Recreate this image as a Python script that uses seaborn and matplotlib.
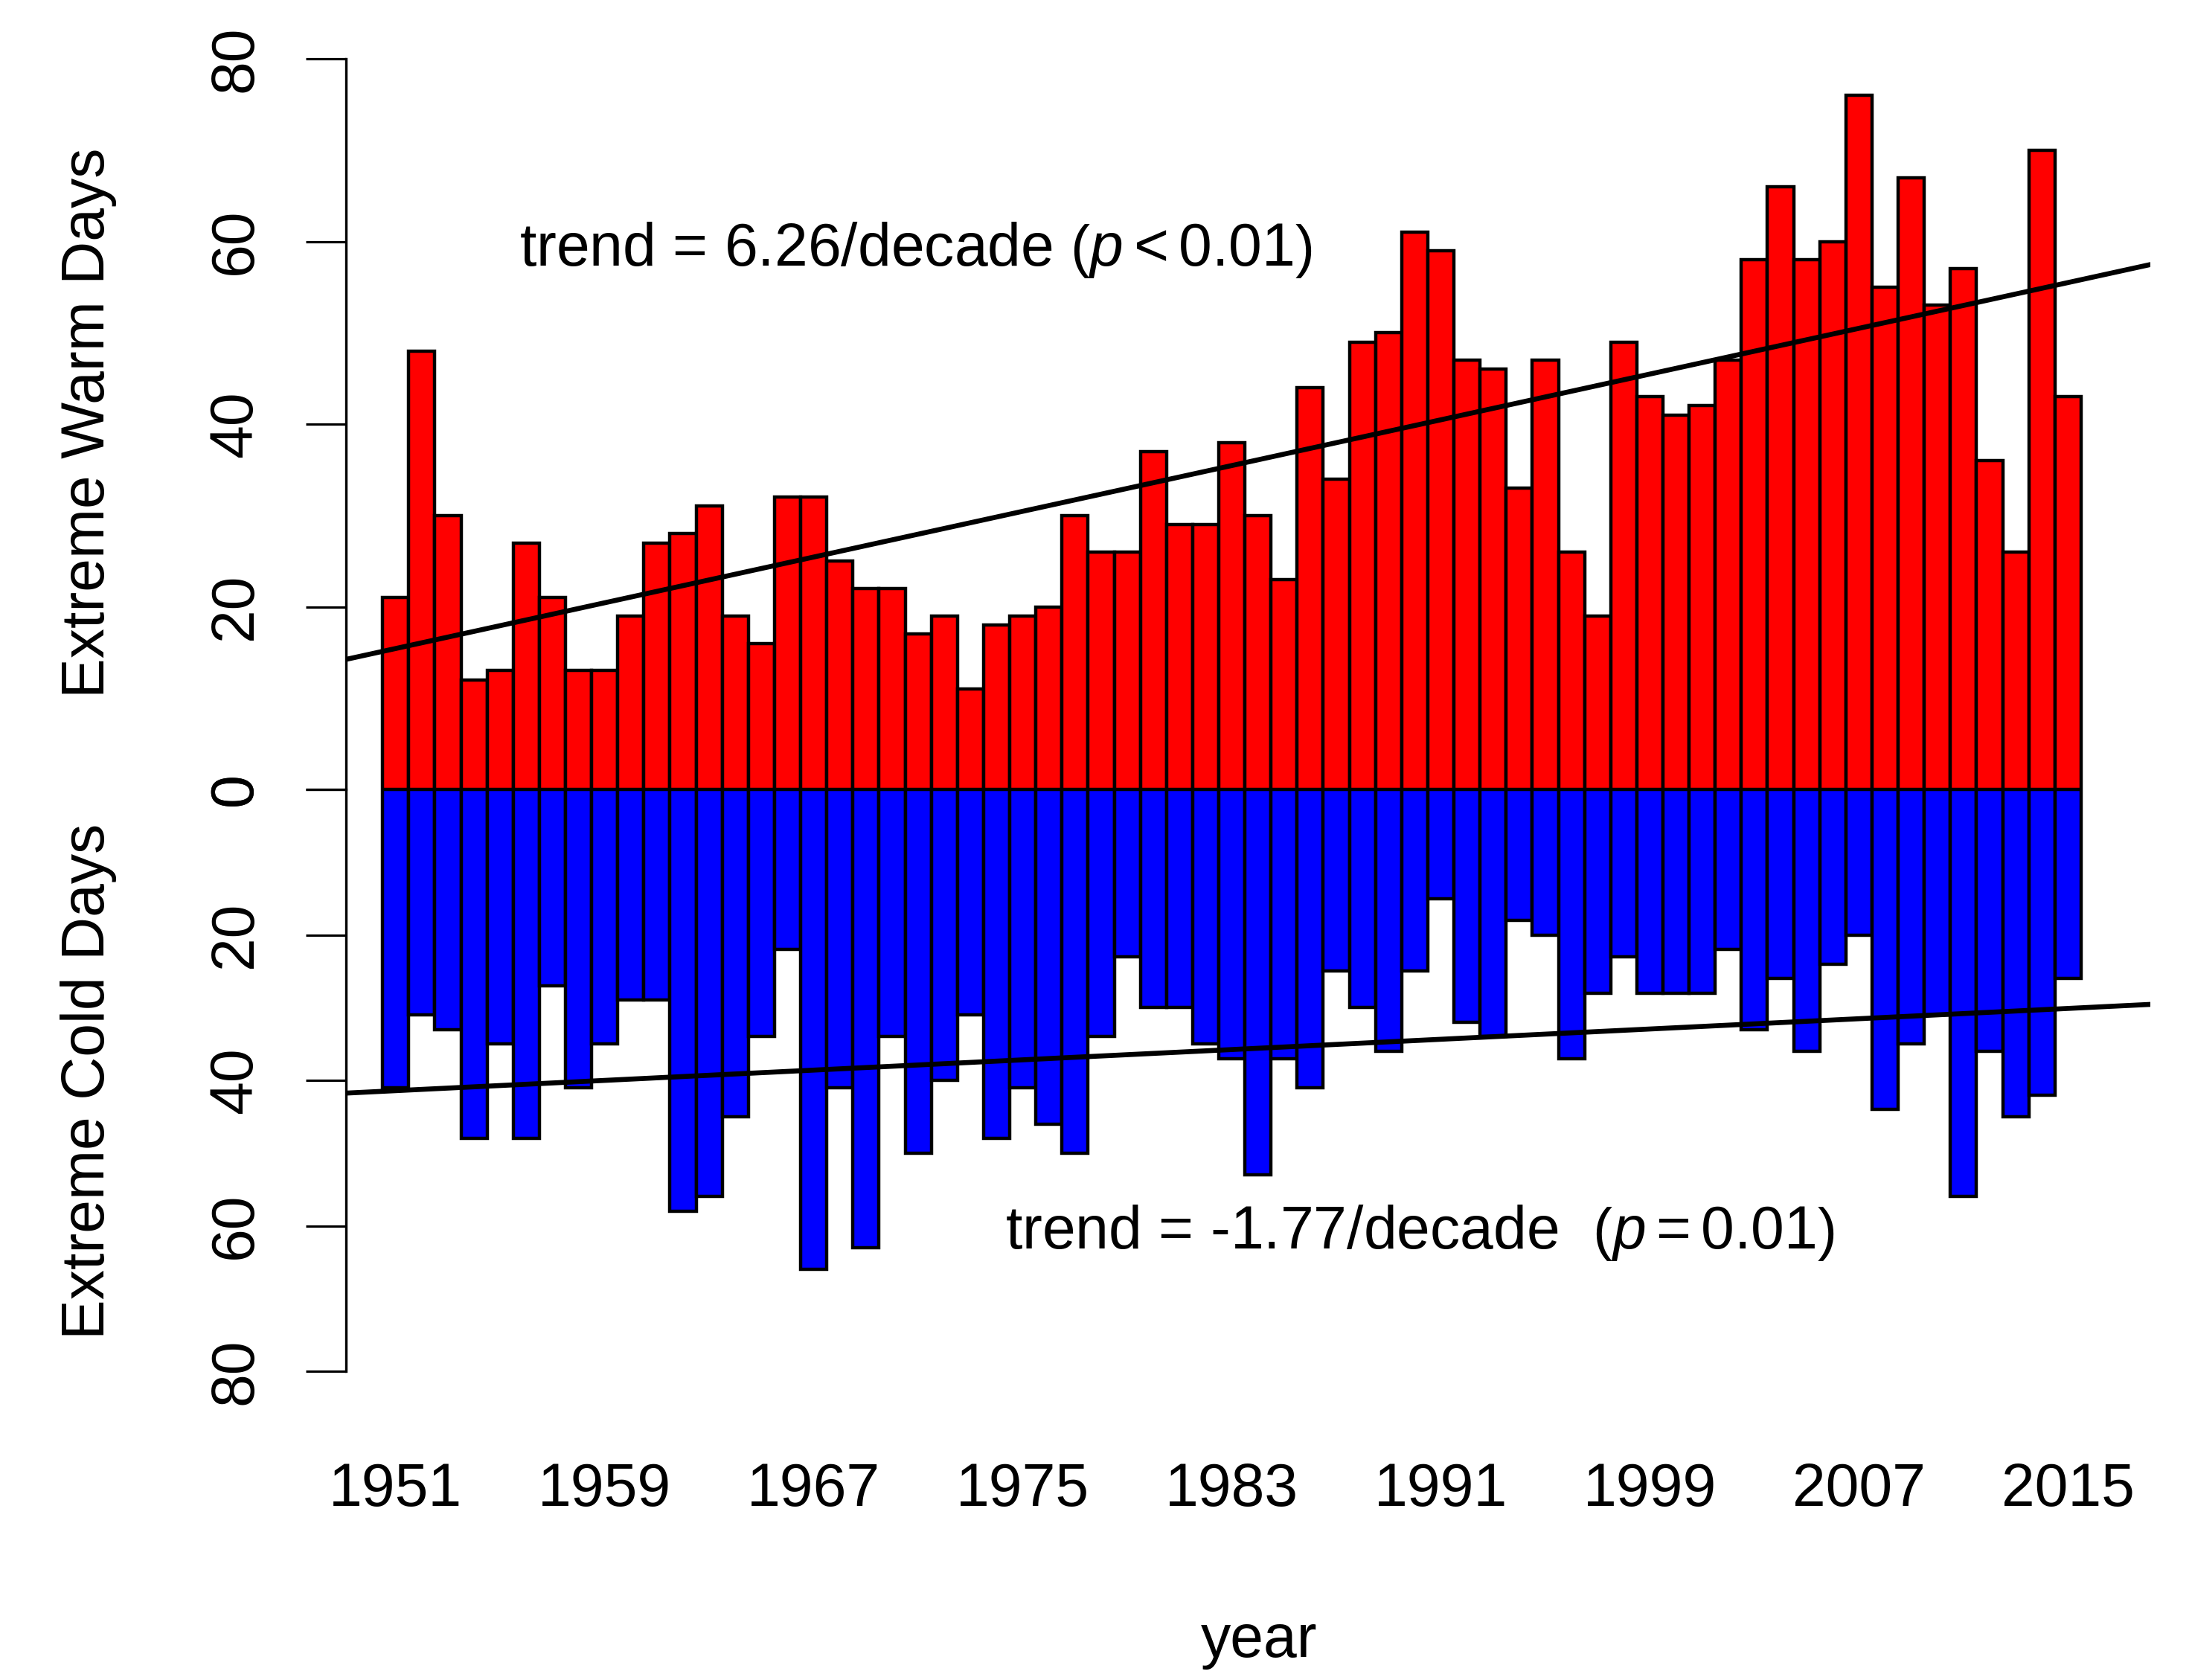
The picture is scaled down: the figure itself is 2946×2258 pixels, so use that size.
import numpy as np
import pandas as pd
import matplotlib
matplotlib.use("Agg")
import matplotlib.pyplot as plt
import seaborn as sns

# ---------------- data ----------------
years = list(range(1951, 2016))
warm_days = [21, 48, 30, 12, 13, 27, 21, 13, 13, 19,
             27, 28, 31, 19, 16, 32, 32, 25, 22, 22,
             17, 19, 11, 18, 19, 20, 30, 26, 26, 37,
             29, 29, 38, 30, 23, 44, 34, 49, 50, 61,
             59, 47, 46, 33, 47, 26, 19, 49, 43, 41,
             42, 47, 58, 66, 58, 60, 76, 55, 67, 53,
             57, 36, 26, 70, 43]
cold_days = [41, 31, 33, 48, 35, 48, 27, 41, 35, 29,
             29, 58, 56, 45, 34, 22, 66, 41, 63, 34,
             50, 40, 31, 48, 41, 46, 50, 34, 23, 30,
             30, 35, 37, 53, 37, 41, 25, 30, 36, 25,
             15, 32, 34, 18, 20, 37, 28, 23, 28, 28,
             28, 22, 33, 26, 36, 24, 20, 44, 35, 31,
             56, 36, 45, 42, 26]
year_ticks = [1951, 1959, 1967, 1975, 1983, 1991, 1999, 2007, 2015]
y_ticks = [0, 20, 40, 60, 80]
warm_label = "Extreme Warm Days"
cold_label = "Extreme Cold Days"
x_label = "year"
warm_trend_text = r"trend = 6.26/decade $\left(p < 0.01\right)$"
cold_trend_text = r"trend = -1.77/decade  $\left(p = 0.01\right)$"

# ---------------- style ----------------
sns.set_style("white")
plt.rcParams["font.family"] = ["Liberation Sans", "DejaVu Sans"]
plt.rcParams["mathtext.fontset"] = "custom"
plt.rcParams["mathtext.rm"] = "Liberation Sans"
plt.rcParams["mathtext.it"] = "Liberation Sans:italic"
plt.rcParams["mathtext.bf"] = "Liberation Sans:bold"
for key in ("text.color", "axes.labelcolor", "xtick.color", "ytick.color",
            "axes.edgecolor"):
    plt.rcParams[key] = "black"

FS = 58
W, H = 2946, 2258
fig = plt.figure(figsize=(W / 100, H / 100), dpi=100)
L, R = 465 / W, 2890 / W
ax_w = fig.add_axes([L, 1 - 1061 / H, R - L, (1061 - 79) / H])
ax_c = fig.add_axes([L, 1 - 1843 / H, R - L, (1843 - 1061) / H])

df = pd.DataFrame({"year": years, "warm": warm_days, "cold": cold_days})
xlim = (1949.1, 2018.15)

sns.barplot(data=df, x="year", y="warm", native_scale=True, width=1.0,
            color="#FF0000", saturation=1, edgecolor="black", linewidth=3.2,
            errorbar=None, ax=ax_w)
sns.barplot(data=df, x="year", y="cold", native_scale=True, width=1.0,
            color="#0000FF", saturation=1, edgecolor="black", linewidth=3.2,
            errorbar=None, ax=ax_c)

# trend lines from linear fits
xs = np.array(xlim)
for ax, col in ((ax_w, "warm"), (ax_c, "cold")):
    k, b = np.polyfit(df["year"], df[col], 1)
    ax.plot(xs, k * xs + b, color="black", lw=4.8, zorder=5)

for ax in (ax_w, ax_c):
    ax.set_xlim(*xlim)
    for s in ("top", "right", "bottom"):
        ax.spines[s].set_visible(False)
    ax.spines["left"].set_linewidth(2.4)
    ax.spines["left"].set_color("black")
    ax.set_yticks(y_ticks)
    ax.set_yticklabels([str(v) for v in y_ticks], rotation=90, va="center",
                       fontsize=FS, color="black")
    ax.tick_params(axis="y", length=39, width=2.3, pad=40, left=True,
                   color="black")
    ax.set_xlabel("")
    ax.set_ylabel("")
    ax.set_facecolor("none")

ax_w.set_ylim(0, 80)
ax_c.set_ylim(80, 0)
ax_w.set_xticks([])
ax_c.set_xticks(year_ticks)
ax_c.set_xticklabels([str(y) for y in year_ticks], fontsize=FS, color="black")
ax_c.tick_params(axis="x", length=0, pad=88)

ax_w.text(1970.9, 59.1, warm_trend_text, ha="center", va="center",
          fontsize=FS, color="black")
ax_c.text(1990.2, 61.0, cold_trend_text, ha="center", va="center",
          fontsize=FS, color="black")

fig.text(119 / W, 1 - 568 / H, warm_label, rotation=90, ha="center",
         va="center", fontsize=FS, color="black")
fig.text(119 / W, 1 - 1453 / H, cold_label, rotation=90, ha="center",
         va="center", fontsize=FS, color="black")
fig.text(1692 / W, 1 - 2206 / H, x_label, ha="center", va="center",
         fontsize=FS, color="black")

fig.savefig("out.png", dpi=100, facecolor="white")
